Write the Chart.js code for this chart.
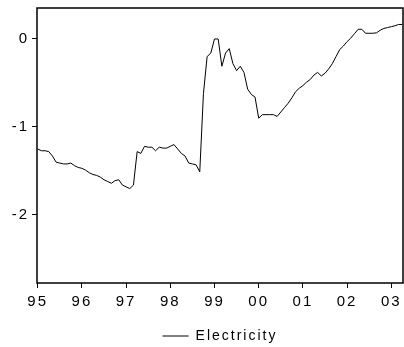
<!DOCTYPE html>
<html>
<head>
<meta charset="utf-8">
<script src="https://cdn.jsdelivr.net/npm/chart.js@4/dist/chart.umd.min.js"></script>
<style>
  html, body { margin: 0; padding: 0; background: #fff; }
  #wrap { width: 404px; height: 347px; }
</style>
</head>
<body>
<div id="wrap"><canvas id="chart-area"></canvas></div>
<script>
// monthly series, 1995M01 .. 2003M04
var startYear = 1995;
var electricity = [
  -1.25, -1.27, -1.27, -1.28, -1.33, -1.40, -1.41, -1.42, -1.42, -1.41, -1.44, -1.46,
  -1.47, -1.49, -1.52, -1.54, -1.55, -1.57, -1.60, -1.62, -1.64, -1.61, -1.60, -1.66,
  -1.68, -1.70, -1.66, -1.28, -1.30, -1.22, -1.23, -1.23, -1.27, -1.23, -1.24, -1.24,
  -1.22, -1.20, -1.25, -1.30, -1.33, -1.41, -1.42, -1.43, -1.51, -0.62, -0.20, -0.16,
  0.00, 0.00, -0.31, -0.16, -0.11, -0.28, -0.36, -0.31, -0.38, -0.57, -0.63, -0.66,
  -0.90, -0.86, -0.86, -0.86, -0.86, -0.88, -0.83, -0.78, -0.73, -0.67, -0.60, -0.56,
  -0.53, -0.49, -0.46, -0.41, -0.38, -0.42, -0.39, -0.34, -0.28, -0.20, -0.12, -0.08,
  -0.03, 0.01, 0.06, 0.11, 0.11, 0.065, 0.065, 0.065, 0.07, 0.10, 0.12, 0.13,
  0.14, 0.15, 0.165, 0.165
];
var yearTicks = [1995, 1996, 1997, 1998, 1999, 2000, 2001, 2002, 2003];
var valueTicks = [0, -1, -2];

var points = electricity.map(function(v, i) {
  return { x: startYear + i / 12, y: v };
});

// EViews style spaced lettering
var spacing = {
  id: 'spacing',
  beforeLayout: function(chart) { chart.ctx.letterSpacing = '2px'; },
  beforeDraw: function(chart) { chart.ctx.letterSpacing = '2px'; }
};

// box around the plot area
var frame = {
  id: 'frame',
  afterDatasetsDraw: function(chart) {
    var a = chart.chartArea;
    var ctx = chart.ctx;
    ctx.save();
    ctx.strokeStyle = '#000';
    ctx.lineWidth = 1.5;
    ctx.strokeRect(a.left, a.top, a.right - a.left, a.bottom - a.top);
    ctx.restore();
  }
};

var tickFont = { family: 'Liberation Sans, Arial, sans-serif', size: 15 };

var config = {
  type: 'line',
  data: {
    datasets: [{
      label: 'Electricity',
      data: points,
      borderColor: '#000',
      backgroundColor: '#000',
      borderWidth: 1,
      pointRadius: 0,
      tension: 0
    }]
  },
  options: {
    responsive: false,
    animation: false,
    layout: { padding: { top: 8, right: 1, left: 0, bottom: -6 } },
    plugins: {
      legend: {
        position: 'bottom',
        fullSize: false,
        labels: {
          color: '#000',
          font: { family: 'Liberation Sans, Arial, sans-serif', size: 14 },
          usePointStyle: true,
          pointStyle: 'line',
          pointStyleWidth: 26,
          padding: 3
        }
      },
      tooltip: { enabled: false }
    },
    scales: {
      x: {
        type: 'linear',
        min: 1994.984,
        max: 2003.265,
        afterBuildTicks: function(scale) {
          scale.ticks = yearTicks.map(function(v) { return { value: v }; });
        },
        afterFit: function(scale) {
          scale.height = 43;
          scale.paddingLeft = 0;
          scale.paddingRight = 0;
        },
        grid: { drawOnChartArea: false, drawTicks: true, tickLength: 5, color: '#000' },
        border: { display: false },
        ticks: {
          color: '#000',
          font: tickFont,
          padding: 5,
          maxRotation: 0,
          autoSkip: false,
          callback: function(v) { return String(v % 100).padStart(2, '0'); }
        }
      },
      y: {
        min: -2.773,
        max: 0.352,
        afterBuildTicks: function(scale) {
          scale.ticks = valueTicks.map(function(v) { return { value: v }; });
        },
        afterFit: function(scale) {
          scale.width = 37;
          scale.paddingTop = 0;
          scale.paddingBottom = 0;
        },
        grid: { drawOnChartArea: false, drawTicks: true, tickLength: 5, color: '#000' },
        border: { display: false },
        ticks: {
          color: '#000',
          font: tickFont,
          padding: 3,
          callback: function(v) { return String(v); }
        }
      }
    }
  },
  plugins: [spacing, frame]
};

var canvas = document.getElementById('chart-area');
canvas.width = 404;
canvas.height = 347;
window.myLine = new Chart(canvas, config);
</script>
</body>
</html>
